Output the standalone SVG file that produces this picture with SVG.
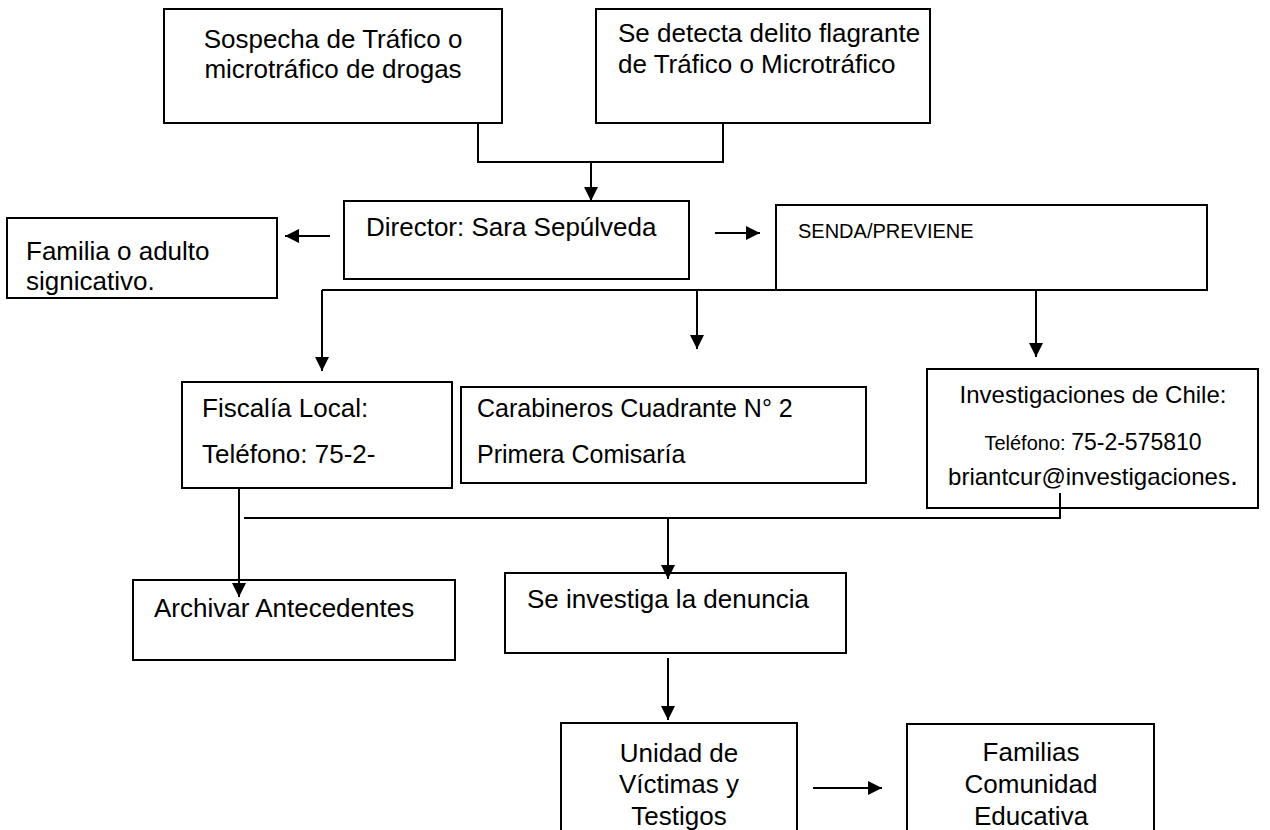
<svg xmlns="http://www.w3.org/2000/svg" width="1270" height="830" viewBox="0 0 1270 830">
  <style>
    .box { fill: #ffffff; stroke: #000000; stroke-width: 2; }
    .t { font-family: "Liberation Sans", Arial, sans-serif; font-size: 26px; fill: #000000; }
    .s { font-size: 25px; }
    .c { text-anchor: middle; }
    .ln { fill: none; stroke: #000000; stroke-width: 2; }
  </style>
  <defs>
    <marker id="arr" markerUnits="userSpaceOnUse" markerWidth="14" markerHeight="14" refX="14" refY="7" orient="auto">
      <path d="M0,0 L14,7 L0,14 z" fill="#000000"/>
    </marker>
  </defs>
  <rect width="1270" height="830" fill="#ffffff"/>

  <g id="n-sospecha">
    <rect class="box" x="164" y="9" width="338" height="114"/>
    <text class="t c" x="333" y="48">Sospecha de Tráfico o</text>
    <text class="t c" x="333" y="78">microtráfico de drogas</text>
  </g>
  <g id="n-detecta">
    <rect class="box" x="596" y="9" width="334" height="114"/>
    <text class="t" x="618" y="42">Se detecta delito flagrante</text>
    <text class="t" x="618" y="73">de Tráfico o Microtráfico</text>
  </g>
  <g id="n-director">
    <rect class="box" x="344" y="201" width="345" height="78"/>
    <text class="t" x="366" y="236">Director: Sara Sepúlveda</text>
  </g>
  <g id="n-familia">
    <rect class="box" x="7" y="218" width="270" height="80"/>
    <text class="t" x="26" y="260">Familia o adulto</text>
    <text class="t" x="26" y="290">signicativo.</text>
  </g>
  <g id="n-senda">
    <rect class="box" x="776" y="205" width="431" height="85"/>
    <text class="t" x="798" y="238" style="font-size:20px">SENDA/PREVIENE</text>
  </g>
  <g id="n-fiscalia">
    <rect class="box" x="182" y="382" width="270" height="106"/>
    <text class="t" x="202" y="417">Fiscalía Local:</text>
    <text class="t" x="202" y="463">Teléfono: 75-2-</text>
  </g>
  <g id="n-carabineros">
    <rect class="box" x="461" y="387" width="405" height="96"/>
    <text class="t s" x="477" y="417">Carabineros Cuadrante N° 2</text>
    <text class="t s" x="477" y="463">Primera Comisaría</text>
  </g>
  <g id="n-investigaciones">
    <rect class="box" x="927" y="369" width="331" height="139"/>
    <text class="t c" x="1093" y="403" style="font-size:24px">Investigaciones de Chile:</text>
    <text class="t c" x="1093" y="450"><tspan style="font-size:20px">Teléfono: </tspan><tspan style="font-size:23px">75-2-575810</tspan></text>
    <text class="t c" x="1093" y="485" style="font-size:24px">briantcur@investigaciones<tspan style="font-size:29px">.</tspan></text>
  </g>
  <g id="n-archivar">
    <rect class="box" x="133" y="580" width="322" height="80"/>
    <text class="t" x="154" y="617">Archivar Antecedentes</text>
  </g>
  <g id="n-investiga">
    <rect class="box" x="505" y="573" width="341" height="80"/>
    <text class="t" x="527" y="608">Se investiga la denuncia</text>
  </g>
  <g id="n-unidad">
    <rect class="box" x="561" y="723" width="236" height="120"/>
    <text class="t c" x="679" y="762">Unidad de</text>
    <text class="t c" x="679" y="793">Víctimas y</text>
    <text class="t c" x="679" y="825">Testigos</text>
  </g>
  <g id="n-familias">
    <rect class="box" x="907" y="724" width="247" height="120"/>
    <text class="t c" x="1031" y="761">Familias</text>
    <text class="t c" x="1031" y="793">Comunidad</text>
    <text class="t c" x="1031" y="825">Educativa</text>
  </g>

  <g id="connectors">
    <path class="ln" d="M478,123 V162 H723 V123"/>
    <path class="ln" d="M591,162 V201" marker-end="url(#arr)"/>
    <path class="ln" d="M330,236 H285" marker-end="url(#arr)"/>
    <path class="ln" d="M715,233 H760" marker-end="url(#arr)"/>
    <path class="ln" d="M322,290 H776"/>
    <path class="ln" d="M322,290 V371" marker-end="url(#arr)"/>
    <path class="ln" d="M697,290 V349" marker-end="url(#arr)"/>
    <path class="ln" d="M1036,290 V357" marker-end="url(#arr)"/>
    <path class="ln" d="M239,488 V597" marker-end="url(#arr)"/>
    <path class="ln" d="M244,518 H1060 V493"/>
    <path class="ln" d="M668,518 V579" marker-end="url(#arr)"/>
    <path class="ln" d="M668,658 V720" marker-end="url(#arr)"/>
    <path class="ln" d="M813,788 H882" marker-end="url(#arr)"/>
  </g>
</svg>
